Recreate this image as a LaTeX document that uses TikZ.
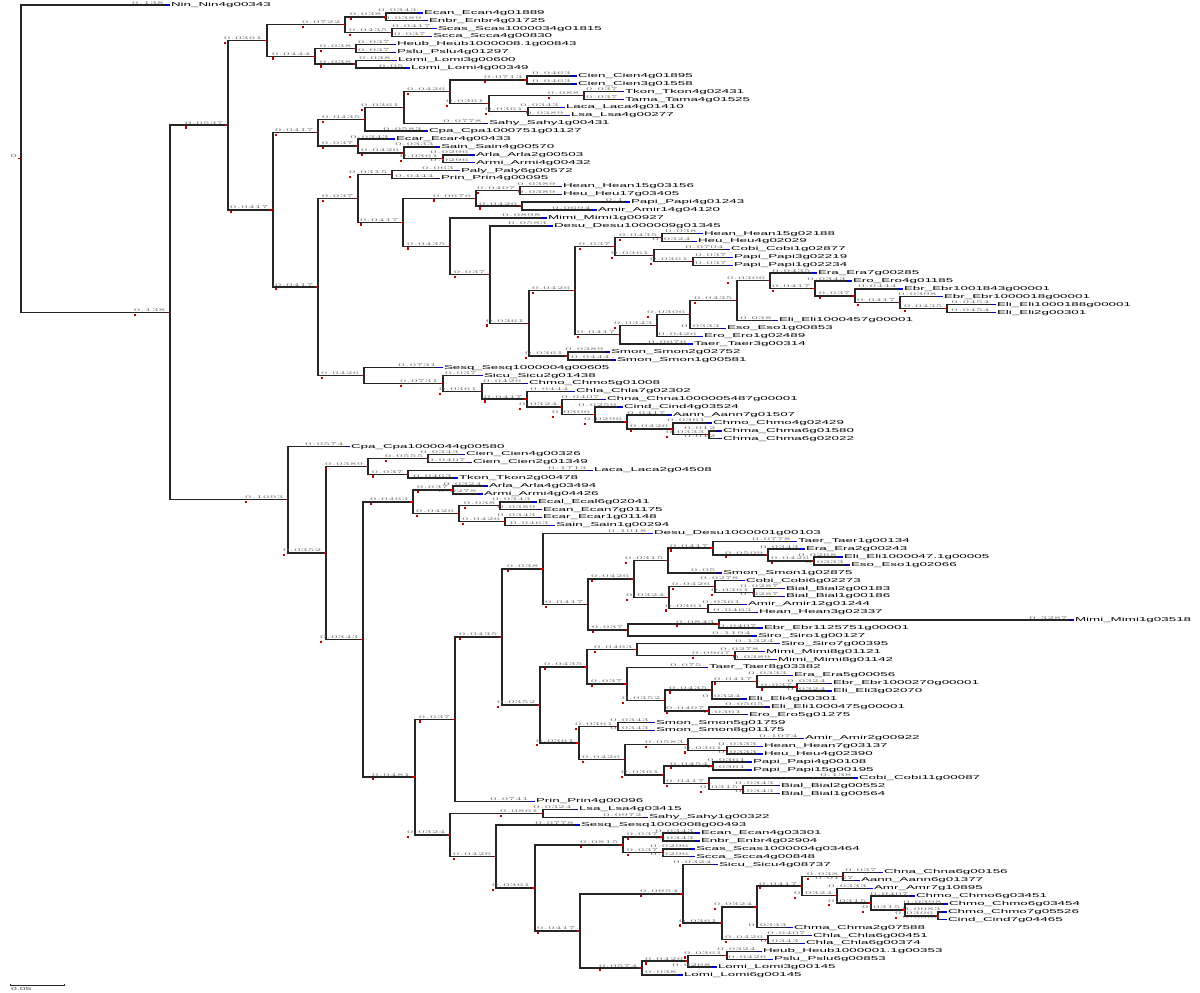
\documentclass[tikz,border=0pt]{standalone}
\usepackage{fontspec}
\setmainfont{Liberation Sans}
\usepackage{graphicx}
\usetikzlibrary{calc}
\pgfkeys{/pgf/number format/.cd,fixed,precision=4}
\tikzset{
  br/.style={draw=black!85, line width=0.7pt},
  tl/.style={font=\fontsize{6.7}{7}\selectfont, inner sep=0.3pt, text=black},
  bl/.style={font=\fontsize{5.3}{6}\selectfont, inner sep=0.3pt, text=black!55},
  blueseg/.style={draw=blue!80!black, line width=0.7pt},
  redtick/.style={draw=red!75!black, line width=0.7pt},
  redmk/.style={fill=red!75!black},
}
\newcommand\blnum[1]{\pgfmathparse{#1}\scalebox{1}[0.42]{\pgfmathprintnumber{\pgfmathresult}}}
\newcommand\tip[3]{%
  \coordinate (t#1) at (#2,{5+7.886*#1});
  \node[tl,anchor=west] (l#1) at (t#1) {\scalebox{1}[0.42]{#3}};
  \expandafter\gdef\csname istip@t#1\endcsname{}%
}
\newcommand\blab[2]{%
  \ifcsname istip@#2\endcsname
    \path let \p1=(#1),\p2=(#2),\n1={(\x2-\x1)/540} in
      node[bl,anchor=south east] (b#2) at ([xshift=-2.6pt]#2) {\blnum{\n1}};
    \draw[blueseg] ([xshift=-2.6pt]#2) -- (#2);
  \else
    \path let \p1=(#1),\p2=(#2),\n1={(\x2-\x1)/540} in
      node[bl,anchor=south east] (b#2) at ([xshift=-1.8pt]#2) {\blnum{\n1}};
    \fill[redmk] (b#2.south west |- #2) ++(1.5,1.2) rectangle ++(2.2,2.2);
    \draw[redtick] ([xshift=-1.6pt]#2) -- (#2);
  \fi
}
\newcommand\clade[4]{%
  \path let \p1=(#3),\p2=(#4) in coordinate (#1) at ({#2*0.5pt},{0.5*\y1+0.5*\y2});
  \draw[br] (#3) -| (#1) |- (#4);
  \blab{#1}{#3}\blab{#1}{#4}%
}
\begin{document}
\begin{tikzpicture}[x=0.5pt,y=-0.5pt]
\fill[white] (0,0) rectangle (1200,992);
\useasboundingbox (0,0) rectangle (1200,992);
% tips
\tip{0}{170}{Nin\_Nin4g00343}
\tip{1}{423}{Ecan\_Ecan4g01889}
\tip{2}{428}{Enbr\_Enbr4g01725}
\tip{3}{437}{Scas\_Scas1000034g01815}
\tip{4}{432}{Scca\_Scca4g00830}
\tip{5}{396}{Heub\_Heub1000008.1g00843}
\tip{6}{396}{Pslu\_Pslu4g01297}
\tip{7}{397}{Lomi\_Lomi3g00600}
\tip{8}{410}{Lomi\_Lomi4g00349}
\tip{9}{577}{Cien\_Cien4g01895}
\tip{10}{577}{Cien\_Cien3g01558}
\tip{11}{624}{Tkon\_Tkon4g02431}
\tip{12}{624}{Tama\_Tama4g01525}
\tip{13}{565}{Laca\_Laca4g01410}
\tip{14}{570}{Lsa\_Lsa4g00277}
\tip{15}{488}{Sahy\_Sahy1g00431}
\tip{16}{428}{Cpa\_Cpa1000751g01127}
\tip{17}{395}{Ecar\_Ecar4g00433}
\tip{18}{440}{Sain\_Sain4g00570}
\tip{19}{475}{Arla\_Arla2g00503}
\tip{20}{475}{Armi\_Armi4g00432}
\tip{21}{460}{Paly\_Paly6g00572}
\tip{22}{440}{Prin\_Prin4g00095}
\tip{23}{562}{Hean\_Hean15g03156}
\tip{24}{562}{Heu\_Heu17g03405}
\tip{25}{630}{Papi\_Papi4g01243}
\tip{26}{597}{Amir\_Amir14g04120}
\tip{27}{547}{Mimi\_Mimi1g00927}
\tip{28}{553}{Desu\_Desu1000009g01345}
\tip{29}{703}{Hean\_Hean15g02188}
\tip{30}{697}{Heu\_Heu4g02029}
\tip{31}{730}{Cobi\_Cobi1g02877}
\tip{32}{733}{Papi\_Papi3g02219}
\tip{33}{733}{Papi\_Papi1g02234}
\tip{34}{817}{Era\_Era7g00285}
\tip{35}{852}{Ero\_Ero4g01185}
\tip{36}{903}{Ebr\_Ebr1001843g00001}
\tip{37}{943}{Ebr\_Ebr1000018g00001}
\tip{38}{996}{Eli\_Eli1000188g00001}
\tip{39}{996}{Eli\_Eli2g00301}
\tip{40}{778}{Eli\_Eli1000457g00001}
\tip{41}{726}{Eso\_Eso1g00853}
\tip{42}{703}{Ero\_Ero1g02489}
\tip{43}{693}{Taer\_Taer3g00314}
\tip{44}{610}{Smon\_Smon2g02752}
\tip{45}{616}{Smon\_Smon1g00581}
\tip{46}{443}{Sesq\_Sesq1000004g00605}
\tip{47}{483}{Sicu\_Sicu2g01438}
\tip{48}{528}{Chmo\_Chmo5g01008}
\tip{49}{575}{Chla\_Chla7g02302}
\tip{50}{606}{Chna\_Chna1000005487g00001}
\tip{51}{623}{Cind\_Cind4g03524}
\tip{52}{672}{Aann\_Aann7g01507}
\tip{53}{712}{Chmo\_Chmo4g02429}
\tip{54}{722}{Chma\_Chma6g01580}
\tip{55}{722}{Chma\_Chma6g02022}
\tip{56}{350}{Cpa\_Cpa1000044g00580}
\tip{57}{465}{Cien\_Cien4g00326}
\tip{58}{472}{Cien\_Cien2g01349}
\tip{59}{593}{Laca\_Laca2g04508}
\tip{60}{458}{Tkon\_Tkon2g00478}
\tip{61}{488}{Arla\_Arla4g03494}
\tip{62}{483}{Armi\_Armi4g04426}
\tip{63}{537}{Ecal\_Ecal6g02041}
\tip{64}{542}{Ecan\_Ecan7g01175}
\tip{65}{542}{Ecar\_Ecar1g01148}
\tip{66}{555}{Sain\_Sain1g00294}
\tip{67}{653}{Desu\_Desu1000001g00103}
\tip{68}{797}{Taer\_Taer1g00134}
\tip{69}{805}{Era\_Era2g00243}
\tip{70}{843}{Eli\_Eli1000047.1g00005}
\tip{71}{850}{Eso\_Eso1g02066}
\tip{72}{722}{Smon\_Smon1g02875}
\tip{73}{745}{Cobi\_Cobi6g02273}
\tip{74}{785}{Bial\_Bial2g00183}
\tip{75}{785}{Bial\_Bial1g00186}
\tip{76}{747}{Amir\_Amir12g01244}
\tip{77}{758}{Hean\_Hean3g02337}
\tip{78}{1074}{Mimi\_Mimi1g03518}
\tip{79}{763}{Ebr\_Ebr1125751g00001}
\tip{80}{757}{Siro\_Siro1g00127}
\tip{81}{780}{Siro\_Siro7g00395}
\tip{82}{765}{Mimi\_Mimi8g01121}
\tip{83}{777}{Mimi\_Mimi8g01142}
\tip{84}{708}{Taer\_Taer8g03382}
\tip{85}{793}{Era\_Era5g00056}
\tip{86}{832}{Ebr\_Ebr1000270g00001}
\tip{87}{832}{Eli\_Eli3g02070}
\tip{88}{747}{Eli\_Eli4g00301}
\tip{89}{770}{Eli\_Eli1000475g00001}
\tip{90}{748}{Ero\_Ero5g01275}
\tip{91}{655}{Smon\_Smon5g01759}
\tip{92}{655}{Smon\_Smon8g01175}
\tip{93}{804}{Amir\_Amir2g00922}
\tip{94}{763}{Hean\_Hean7g03137}
\tip{95}{763}{Heu\_Heu4g02390}
\tip{96}{752}{Papi\_Papi4g00108}
\tip{97}{752}{Papi\_Papi15g00195}
\tip{98}{858}{Cobi\_Cobi11g00087}
\tip{99}{780}{Bial\_Bial2g00552}
\tip{100}{780}{Bial\_Bial1g00564}
\tip{101}{535}{Prin\_Prin4g00096}
\tip{102}{578}{Lsa\_Lsa4g03415}
\tip{103}{648}{Sahy\_Sahy1g00322}
\tip{104}{580}{Sesq\_Sesq1000008g00493}
\tip{105}{700}{Ecan\_Ecan4g03301}
\tip{106}{700}{Enbr\_Enbr4g02904}
\tip{107}{695}{Scas\_Scas1000004g03464}
\tip{108}{695}{Scca\_Scca4g00848}
\tip{109}{718}{Sicu\_Sicu4g08737}
\tip{110}{883}{Chna\_Chna6g00156}
\tip{111}{860}{Aann\_Aann6g01377}
\tip{112}{873}{Amr\_Amr7g10895}
\tip{113}{915}{Chmo\_Chmo6g03451}
\tip{114}{948}{Chmo\_Chmo6g03454}
\tip{115}{947}{Chmo\_Chmo7g05526}
\tip{116}{947}{Cind\_Cind7g04465}
\tip{117}{793}{Chma\_Chma2g07588}
\tip{118}{812}{Chla\_Chla6g00451}
\tip{119}{805}{Chla\_Chla6g00374}
\tip{120}{762}{Heub\_Heub1000001.1g00353}
\tip{121}{773}{Pslu\_Pslu6g00853}
\tip{122}{717}{Lomi\_Lomi3g00145}
\tip{123}{683}{Lomi\_Lomi6g00145}
% upper clade
\clade{d1a}{386}{t1}{t2}
\clade{d1b}{392}{t3}{t4}
\clade{d1}{345}{d1a}{d1b}
\clade{d2a}{356}{t5}{t6}
\clade{d2b}{356}{t7}{t8}
\clade{d2}{315}{d2a}{d2b}
\clade{d}{267}{d1}{d2}
\clade{e1e}{527}{t9}{t10}
\clade{e1g}{584}{t11}{t12}
\clade{e1h}{528}{t13}{t14}
\clade{e1f}{489}{e1g}{e1h}
\clade{e1d}{450}{e1e}{e1f}
\clade{e1c}{404}{e1d}{t15}
\clade{e1a}{365}{e1c}{t16}
\clade{e1j}{443}{t19}{t20}
\clade{e1i}{404}{t18}{e1j}
\clade{e1b}{358}{t17}{e1i}
\clade{e1}{318}{e1a}{e1b}
\clade{e2a1}{392}{t21}{t22}
\clade{n520}{520}{t23}{t24}
\clade{n521}{522}{t25}{t26}
\clade{n476}{476}{n520}{n521}
\clade{n662}{662}{t29}{t30}
\clade{n693}{693}{t32}{t33}
\clade{n654}{654}{t31}{n693}
\clade{n615}{615}{n662}{n654}
\clade{n947}{947}{t38}{t39}
\clade{n900}{900}{t37}{n947}
\clade{n855}{855}{t36}{n900}
\clade{n815}{815}{t35}{n855}
\clade{n770}{770}{t34}{n815}
\clade{nX}{737}{n770}{t40}
\clade{n690}{690}{nX}{t41}
\clade{n657}{657}{n690}{t42}
\clade{e2g}{620}{n657}{t43}
\clade{e2f}{575}{n615}{e2g}
\clade{nsm}{568}{t44}{t45}
\clade{e2e}{529}{e2f}{nsm}
\clade{e2d}{490}{t28}{e2e}
\clade{e2c}{450}{t27}{e2d}
\clade{e2b}{403}{n476}{e2c}
\clade{e2a}{358}{e2a1}{e2b}
\clade{n676b}{709}{t54}{t55}
\clade{n676}{673}{t53}{n676b}
\clade{n630}{627}{t52}{n676}
\clade{n595}{595}{t51}{n630}
\clade{n562}{562}{t50}{n595}
\clade{n527}{527}{t49}{n562}
\clade{n482}{482}{t48}{n527}
\clade{n443}{443}{t47}{n482}
\clade{e2h}{364}{t46}{n443}
\clade{e2}{318}{e2a}{e2h}
\clade{e}{273}{e1}{e2}
\clade{b}{228}{d}{e}
% lower clade
\clade{n428}{428}{t57}{t58}
\clade{n408}{408}{t59}{t60}
\clade{c2a}{368}{n428}{n408}
\clade{n453}{453}{t61}{t62}
\clade{n500}{500}{t63}{t64}
\clade{n505}{505}{t65}{t66}
\clade{n459}{459}{n500}{n505}
\clade{c3a}{413}{n453}{n459}
\clade{n814}{814}{t70}{t71}
\clade{n768}{768}{t69}{n814}
\clade{n713}{713}{t68}{n768}
\clade{s1a}{668}{n713}{t72}
\clade{n754}{754}{t74}{t75}
\clade{n715}{715}{t73}{n754}
\clade{n708}{708}{t76}{t77}
\clade{s1b}{669}{n715}{n708}
\clade{s1}{634}{s1a}{s1b}
\clade{n719}{719}{t78}{t79}
\clade{s2}{628}{n719}{t80}
\clade{s}{588}{s1}{s2}
\clade{n543}{543}{t67}{s}
\clade{n735}{735}{t82}{t83}
\clade{n637}{637}{t81}{n735}
\clade{n797}{797}{t86}{t87}
\clade{n757}{757}{t85}{n797}
\clade{n712}{712}{n757}{t88}
\clade{n709}{709}{t89}{t90}
\clade{t3n}{665}{n712}{n709}
\clade{t2n}{627}{t84}{t3n}
\clade{t1n}{587}{n637}{t2n}
\clade{n618}{618}{t91}{t92}
\clade{n727}{727}{t94}{t95}
\clade{n688}{688}{t93}{n727}
\clade{n713b}{713}{t96}{t97}
\clade{n743}{743}{t99}{t100}
\clade{n709b}{709}{t98}{n743}
\clade{t6n}{664}{n713b}{n709b}
\clade{t5n}{625}{n688}{t6n}
\clade{t4n}{579}{n618}{t5n}
\clade{tn}{540}{t1n}{t4n}
\clade{p}{502}{n543}{tn}
\clade{q}{455}{p}{t101}
\clade{r1}{543}{t102}{t103}
\clade{n663a}{663}{t105}{t106}
\clade{n663b}{663}{t107}{t108}
\clade{n623}{623}{n663a}{n663b}
\clade{n843}{843}{t110}{t111}
\clade{n938}{938}{t115}{t116}
\clade{r11}{905}{t114}{n938}
\clade{r10}{871}{t113}{r11}
\clade{r9}{837}{t112}{r10}
\clade{r8}{802}{n843}{r9}
\clade{r7}{757}{r8}{t117}
\clade{n768b}{768}{t118}{t119}
\clade{r6}{722}{r7}{n768b}
\clade{r5}{683}{t109}{r6}
\clade{n727b}{727}{t120}{t121}
\clade{n688b}{688}{n727b}{t122}
\clade{n642}{642}{n688b}{t123}
\clade{r4}{580}{r5}{n642}
\clade{r3}{535}{n623}{r4}
\clade{r2}{496}{t104}{r3}
\clade{rr}{450}{r1}{r2}
\clade{c4}{415}{q}{rr}
\clade{c3}{363}{c3a}{c4}
\clade{c2}{326}{c2a}{c3}
\clade{c}{288}{t56}{c2}
\clade{a}{170}{b}{c}
\clade{root}{21}{t0}{a}
\node[bl,anchor=south east] (broot) at ([xshift=-1.8pt]root) {\scalebox{1}[0.42]{0}};
\draw[redtick] ([xshift=-1.6pt]root) -- (root);
% scale bar
\coordinate (sb1) at (10,985);
\coordinate (sb2) at (64,985);
\draw[br,line width=0.5pt] (sb1) -- (sb2);
\draw[br,line width=0.5pt] ([yshift=0.7pt]sb1) -- ([yshift=-0.7pt]sb1);
\draw[br,line width=0.5pt] ([yshift=0.7pt]sb2) -- ([yshift=-0.7pt]sb2);
\node[bl,anchor=north west,text=black!70] (sbl) at ([yshift=-0.6pt]sb1) {\scalebox{1}[0.42]{0.05}};
\end{tikzpicture}
\end{document}
